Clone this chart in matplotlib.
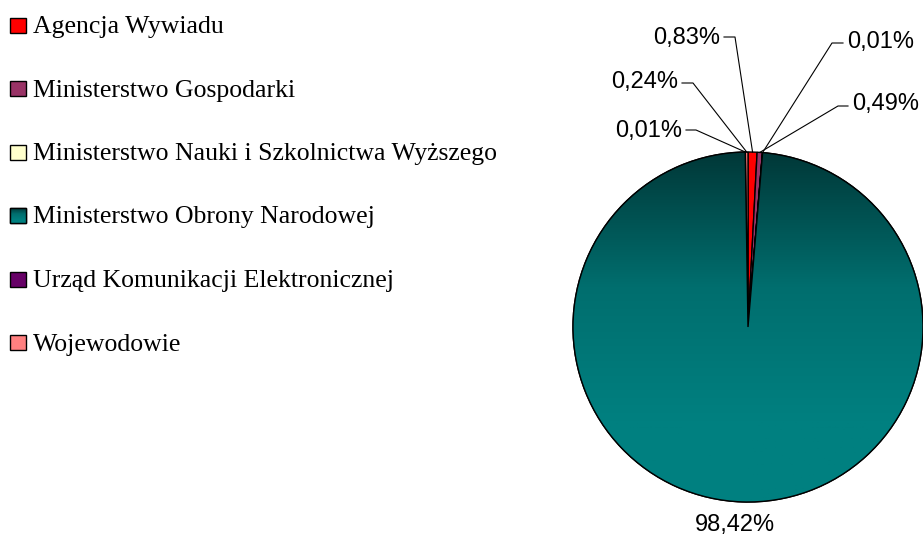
import numpy as np
import matplotlib.pyplot as plt
from matplotlib.patches import Rectangle, Wedge
from matplotlib.colors import LinearSegmentedColormap

# dane
labels = ["Agencja Wywiadu", "Ministerstwo Gospodarki",
          "Ministerstwo Nauki i Szkolnictwa Wyższego",
          "Ministerstwo Obrony Narodowej",
          "Urząd Komunikacji Elektronicznej", "Wojewodowie"]
values = [0.83, 0.49, 0.01, 98.42, 0.01, 0.24]
pct_text = ["0,83%", "0,49%", "0,01%", "98,42%", "0,01%", "0,24%"]
colors = ["#FF0000", "#993366", "#FFFFCC", "#006666", "#660066", "#FF8080"]

# pozycje etykiet: x tekstu, linia bazowa, y linii, x załamania, wyrównanie
lab_pos = [(720, 44, 37, 735, "right"), (852, 110, 106, 838, "left"),
           (847, 48, 43, 832, "left"), (735, 531, None, None, "center"),
           (682, 137, 130, 696, "right"), (678, 88, 83, 693, "right")]

W, H = 923, 538
fig = plt.figure(figsize=(W / 100, H / 100), dpi=100)
ax = fig.add_axes([0, 0, 1, 1])

cx, cy, r = 748, 211, 175
wedges, _ = ax.pie(values, colors=colors, startangle=90, counterclock=False,
                   center=(cx, cy), radius=r,
                   wedgeprops=dict(edgecolor="black", linewidth=1.0))

# gradient dla MON
cmap = LinearSegmentedColormap.from_list("teal", ["#003838", "#006e6e", "#008080"])
grad = np.clip(np.linspace(0, 1, 256).reshape(-1, 1) * 1.3, 0, 1)
z = wedges[3].get_zorder()
im = ax.imshow(grad, cmap=cmap, extent=(cx - r, cx + r, cy - r, cy + r),
               origin="upper", aspect="auto", zorder=z + 0.1)
im.set_clip_path(wedges[3])
ax.add_patch(Wedge((cx, cy), r, wedges[3].theta1, wedges[3].theta2,
                   facecolor="none", edgecolor="black", lw=1.0, zorder=z + 0.2))

# etykiety procentowe
for w, txt, (tx, tb, ly, ex, ha) in zip(wedges, pct_text, lab_pos):
    ang = np.deg2rad((w.theta1 + w.theta2) / 2)
    px, py = cx + r * np.cos(ang), cy + r * np.sin(ang)
    ax.text(tx, H - tb, txt, ha=ha, va="baseline", fontsize=17,
            family="Liberation Sans", color="black")
    if ex is not None:
        gap = 4 if ha == "left" else -4
        ax.plot([tx - gap, ex, px], [H - ly, H - ly, py], color="black", lw=0.8,
                zorder=10)

# legenda
for i, (lab, c) in enumerate(zip(labels, colors)):
    yc = 25 + 63.5 * i
    sq = Rectangle((10, H - yc - 7.5), 16, 15, facecolor=c, edgecolor="black",
                   lw=1.0, zorder=5)
    ax.add_patch(sq)
    if i == 3:
        g = ax.imshow(grad, cmap=cmap, extent=(10, 26, H - yc - 7.5, H - yc + 7.5),
                      origin="upper", aspect="auto", zorder=5.1)
        g.set_clip_path(sq)
        ax.add_patch(Rectangle((10, H - yc - 7.5), 16, 15, facecolor="none",
                               edgecolor="black", lw=1.0, zorder=5.2))
    ax.text(33, H - (33 + 63.5 * i), lab, ha="left", va="baseline", fontsize=18.5,
            family="Liberation Serif", color="black")

ax.set_xlim(0, W)
ax.set_ylim(0, H)
ax.set_aspect("auto")
ax.axis("off")

fig.savefig("out.png", dpi=100)
